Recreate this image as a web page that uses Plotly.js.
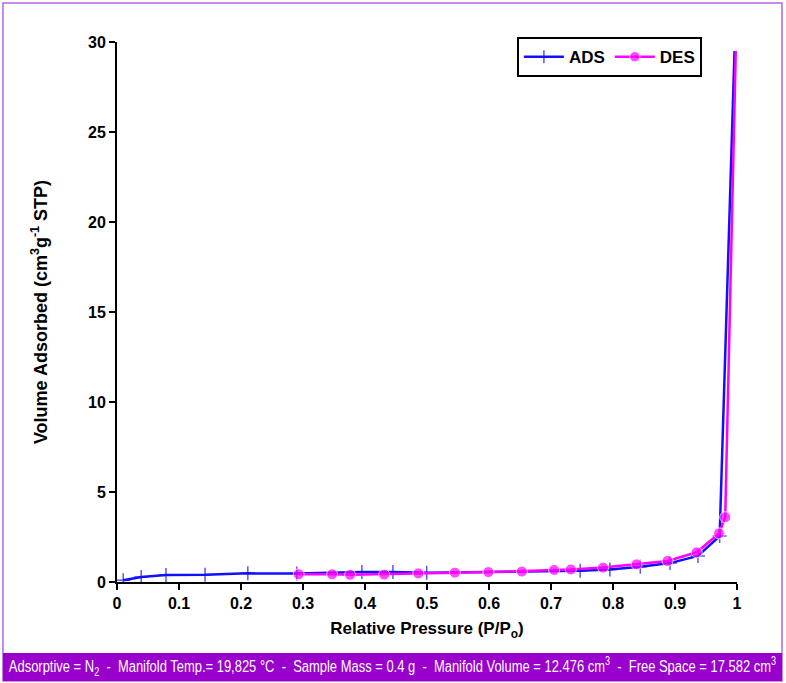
<!DOCTYPE html>
<html>
<head>
<meta charset="utf-8">
<script src="https://cdn.plot.ly/plotly-3.0.1.min.js"></script>
<style>
  html, body { margin: 0; padding: 0; background: #fff; }
  #plot { width: 786px; height: 683px; }
</style>
</head>
<body>
<div id="plot"></div>
<script>
// adsorption branch
var adsP = [0.01, 0.039, 0.079, 0.142, 0.211, 0.29, 0.395, 0.445, 0.4995, 0.747, 0.795, 0.844, 0.892, 0.937, 0.972, 0.996];
var adsV = [0.1, 0.28, 0.39, 0.4, 0.48, 0.47, 0.55, 0.56, 0.52, 0.62, 0.7, 0.85, 1.05, 1.45, 2.55, 29.5];
// desorption branch
var desP = [0.998, 0.981, 0.971, 0.935, 0.888, 0.838, 0.784, 0.732, 0.705, 0.653, 0.599, 0.545, 0.486, 0.431, 0.376, 0.347, 0.293];
var desV = [29.5, 3.6, 2.7, 1.65, 1.17, 0.98, 0.8, 0.7, 0.67, 0.58, 0.55, 0.52, 0.48, 0.41, 0.4, 0.43, 0.43];

// no marker drawn on the top point of either branch
var adsSize = adsP.map(function(p, i){ return i === adsP.length - 1 ? 0 : 10; });
var desSize = desP.map(function(p, i){ return i === 0 ? 0 : 11; });

var bannerText = 'Adsorptive = N<sub>2</sub>&nbsp; - &nbsp;Manifold Temp.= 19,825 °C&nbsp; - &nbsp;Sample Mass = 0.4 g&nbsp; - &nbsp;Manifold Volume = 12.476 cm<sup>3</sup>&nbsp; - &nbsp;Free Space = 17.582 cm<sup>3</sup>';

var boldFont = 'Liberation Sans, Arial, sans-serif';

var ads = {
  x: adsP, y: adsV,
  type: 'scatter', mode: 'lines+markers',
  name: '<b>ADS</b>',
  line: {color: '#1010ff', width: 2.5},
  marker: {symbol: 'cross-thin', size: adsSize, line: {color: '#1010ff', width: 1.5}, color: '#1010ff'}
};
var des = {
  x: desP, y: desV,
  type: 'scatter', mode: 'lines+markers',
  name: '<b>DES</b>',
  line: {color: '#ff00ff', width: 2.5},
  marker: {symbol: 'circle', size: desSize, color: '#ff00ff'}
};

var layout = {
  width: 786, height: 683,
  margin: {l: 117, r: 49, t: 42, b: 101},
  paper_bgcolor: '#fff', plot_bgcolor: '#fff',
  font: {family: boldFont, color: '#000'},
  showlegend: true,
  legend: {
    x: 0.645, y: 1.009, xanchor: 'left', yanchor: 'top',
    orientation: 'h',
    bordercolor: '#000', borderwidth: 2,
    font: {size: 17, family: boldFont},
    itemwidth: 40
  },
  xaxis: {
    range: [0, 1], dtick: 0.1, tick0: 0,
    showgrid: false, zeroline: false,
    showline: true, linecolor: '#000', linewidth: 2,
    ticks: 'outside', ticklen: 6, tickwidth: 2, tickcolor: '#000',
    tickfont: {size: 16, family: boldFont},
    tickprefix: '<b>', ticksuffix: '</b>',
    title: {text: '<b>Relative Pressure (P/P<sub>o</sub>)</b>', font: {size: 17}, standoff: 11}
  },
  yaxis: {
    range: [0, 30], dtick: 5, tick0: 0,
    showgrid: false, zeroline: false,
    showline: true, linecolor: '#000', linewidth: 2,
    ticks: 'outside', ticklen: 6, tickwidth: 2, tickcolor: '#000',
    tickfont: {size: 16, family: boldFont},
    tickprefix: '<b>', ticksuffix: '</b>',
    title: {text: '<b>Volume Adsorbed (cm<sup>3</sup>g<sup>-1</sup> STP)</b>', font: {size: 18}, standoff: 36}
  },
  shapes: [
    // outer frame
    {type: 'rect', xref: 'paper', yref: 'paper', x0: -0.1839, x1: 1.0726, y0: -0.1833, y1: 1.0722,
     line: {color: '#b266e0', width: 1.5}, fillcolor: 'rgba(0,0,0,0)', layer: 'below'},
    // bottom banner
    {type: 'rect', xref: 'paper', yref: 'paper', x0: -0.1839, x1: 1.0726, y0: -0.1833, y1: -0.1315,
     line: {width: 0}, fillcolor: '#9a00cc', layer: 'above'}
  ],
  annotations: [
    {xref: 'paper', yref: 'paper', x: 0.444, y: -0.1574, xanchor: 'center', yanchor: 'middle',
     showarrow: false, text: bannerText,
     font: {family: 'Liberation Sans, sans-serif', size: 17, color: '#fff'}}
  ]
};

Plotly.newPlot('plot', [ads, des], layout, {displayModeBar: false}).then(function(gd){
  // squeeze the banner text horizontally, the way a condensed face would look
  var t = gd.querySelector('.annotation-text-g');
  if (!t) return;
  var bb = t.getBBox();
  var target = 770;
  var s = target / bb.width;
  var cx = bb.x + bb.width / 2;
  var cur = t.getAttribute('transform') || '';
  t.setAttribute('transform', cur + ' translate(' + cx + ',0) scale(' + s + ',1) translate(' + (-cx) + ',0)');
});
</script>
</body>
</html>
